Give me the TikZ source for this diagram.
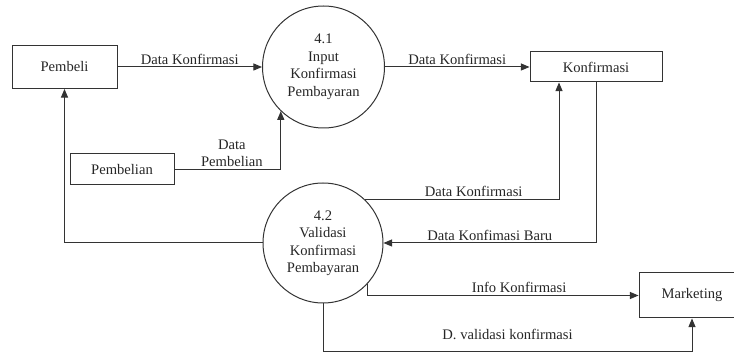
\documentclass[tikz,border=0pt]{standalone}
\usepackage{fontspec}
\setmainfont{Liberation Serif}
\usetikzlibrary{arrows}

\begin{document}
\begin{tikzpicture}[x=1pt, y=-1pt, font=\fontsize{14.6}{17.5}\selectfont,
  >=triangle 45, line width=1pt, draw=black!80, text=black!85,
  entity/.style={draw, rectangle},
  proc/.style={draw, circle, align=center, inner sep=0pt},
  lbl/.style={inner sep=2pt}]
 \useasboundingbox (0,0) rectangle (734,352);
 \node[entity, minimum width=105pt, minimum height=43pt] (pembeli) at (64.5,67) {Pembeli};
 \node[proc, minimum size=122pt] (p41) at (323.5,67) {4.1\\Input\\Konfirmasi\\Pembayaran};
 \node[entity, minimum width=132pt, minimum height=30pt] (konf) at (596,67) {Konfirmasi};
 \node[entity, minimum width=104pt, minimum height=31pt] (pembelian) at (122,169.5) {Pembelian};
 \node[proc, minimum size=120pt] (p42) at (323,243) {4.2\\Validasi\\Konfirmasi\\Pembayaran};
 \node[entity, minimum width=106pt, minimum height=45pt] (mkt) at (692,295.5) {Marketing};

 \path[->]
  (pembeli) edge node [lbl, above] {Data Konfirmasi} (p41)
  (p41) edge node [lbl, above] {Data Konfirmasi} (konf)
 ;
 \draw[->] (pembelian) -| node [lbl, above, pos=0.27, align=center] {Data\\Pembelian} (p41.226);
 \draw[->] (p42) -| (pembeli);
 \draw[->] (p42.46) -| node [lbl, above, pos=0.28] {Data Konfirmasi} ([xshift=-37pt]konf.south);
 \draw[->] (konf) |- node [lbl, above, pos=0.75] {Data Konfimasi Baru} (p42);
 \draw[->] (p42.-43) |- node [lbl, above, pos=0.78] {Info Konfirmasi} (mkt);
 \draw[->] (p42) |- node [lbl, above=9pt, pos=0.75] {D. validasi konfirmasi} ([yshift=-33pt]mkt.south) -- (mkt);
\end{tikzpicture}
\end{document}
